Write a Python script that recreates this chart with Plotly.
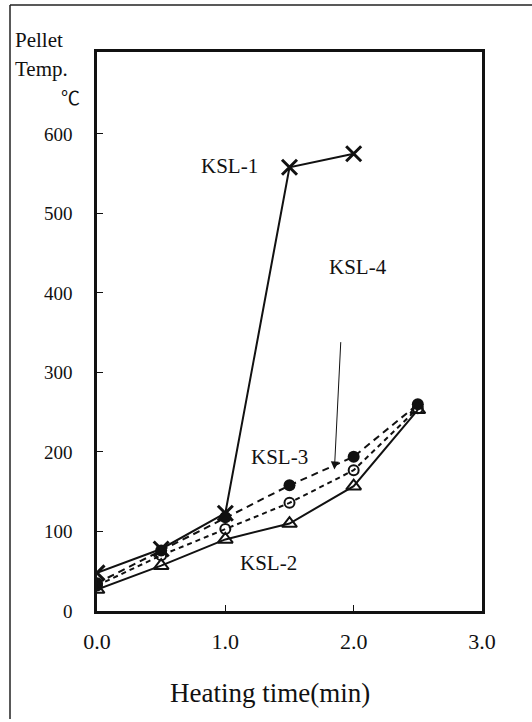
import plotly.graph_objects as go

# Heating time (min)
time_min = [0.0, 0.5, 1.0, 1.5, 2.0, 2.5]

# Pellet temperature (deg C) for each sample
ksl1_time = [0.0, 0.5, 1.0, 1.5, 2.0]
ksl1_temp = [48, 78, 123, 558, 575]
ksl2_temp = [27, 57, 90, 110, 157, 253]
ksl3_temp = [35, 76, 118, 158, 194, 260]
ksl4_temp = [32, 70, 103, 136, 177, 255]

x_ticks = [0.0, 1.0, 2.0, 3.0]
x_tick_text = ["0.0", "1.0", "2.0", "3.0"]
y_ticks = [0, 100, 200, 300, 400, 500, 600]

SERIF = "Liberation Serif"
INK = "#111111"

fig = go.Figure()

fig.add_trace(go.Scatter(
    x=time_min, y=ksl3_temp, mode="lines+markers",
    line=dict(color=INK, width=2, dash="7px,5px"),
    marker=dict(symbol="circle", size=12, color=INK),
    name="KSL-3"))
fig.add_trace(go.Scatter(
    x=time_min, y=ksl4_temp, mode="lines+markers",
    line=dict(color=INK, width=2, dash="5px,4px"),
    marker=dict(symbol="circle-open", size=10, color=INK, line=dict(width=2)),
    name="KSL-4"))
fig.add_trace(go.Scatter(
    x=time_min, y=ksl2_temp, mode="lines+markers",
    line=dict(color=INK, width=2),
    marker=dict(symbol="triangle-up-open", size=13, color=INK, line=dict(width=2)),
    name="KSL-2"))
fig.add_trace(go.Scatter(
    x=ksl1_time, y=ksl1_temp, mode="lines+markers",
    line=dict(color=INK, width=2),
    marker=dict(symbol="x-thin-open", size=15, color=INK, line=dict(width=3, color=INK)),
    name="KSL-1"))

# Series labels placed next to their curves
labels = [("KSL-1", 1.03, 560), ("KSL-4", 2.03, 433), ("KSL-3", 1.42, 194), ("KSL-2", 1.34, 60)]
for text, lx, ly in labels:
    fig.add_annotation(x=lx, y=ly, xref="x", yref="y", text=text, showarrow=False,
                       font=dict(family=SERIF, size=21, color=INK))

# Pointer from the KSL-4 label region down onto its curve
fig.add_annotation(x=1.85, y=178, ax=1.9, ay=340, xref="x", yref="y",
                   axref="x", ayref="y", text="", showarrow=True,
                   arrowhead=2, arrowsize=1.6, arrowwidth=1, arrowcolor=INK)

# Y axis caption
for text, py in [("Pellet", 40), ("Temp.", 69)]:
    fig.add_annotation(x=(13 - 97) / 385, y=(611 - py) / 559, xref="paper", yref="paper",
                       xanchor="left", yanchor="middle", text=text, showarrow=False,
                       font=dict(family=SERIF, size=21, color=INK))
fig.add_annotation(x=(70 - 97) / 385, y=(611 - 97) / 559, xref="paper", yref="paper",
                   xanchor="center", yanchor="middle", text="℃", showarrow=False,
                   font=dict(family="Noto Sans CJK JP", size=19, color=INK))

# X axis caption
fig.add_annotation(x=(270 - 97) / 385, y=(611 - 693) / 559, xref="paper", yref="paper",
                   xanchor="center", yanchor="middle", text="Heating time(min)",
                   showarrow=False, font=dict(family=SERIF, size=27, color=INK))

# Outer frame (left and top edges)
fig.add_shape(type="line", xref="paper", yref="paper",
              x0=(10 - 97) / 385, x1=(10 - 97) / 385, y0=(611 - 5) / 559, y1=(611 - 719) / 559,
              line=dict(color="#222222", width=1.5))
fig.add_shape(type="line", xref="paper", yref="paper",
              x0=(10 - 97) / 385, x1=(532 - 97) / 385, y0=(611 - 5) / 559, y1=(611 - 5) / 559,
              line=dict(color="#222222", width=1.5))

fig.update_xaxes(range=[0, 3.0], tickvals=x_ticks, ticktext=x_tick_text,
                 showgrid=False, zeroline=False, showline=True, linecolor=INK,
                 linewidth=2.5, mirror=True, ticks="inside", ticklen=6,
                 tickcolor=INK, ticklabelstandoff=9,
                 tickfont=dict(family=SERIF, size=22, color=INK))
fig.update_yaxes(range=[0, 703], tickvals=y_ticks, showgrid=False, zeroline=False,
                 showline=True, linecolor=INK, linewidth=2.5, mirror=True,
                 ticks="inside", ticklen=6, tickcolor=INK, ticklabelstandoff=18,
                 tickfont=dict(family=SERIF, size=19, color=INK))

fig.update_layout(width=532, height=722, showlegend=False,
                  font=dict(family=SERIF, color=INK),
                  margin=dict(l=97, r=50, t=52, b=111),
                  paper_bgcolor="white", plot_bgcolor="white")

fig.write_html("out.html")
